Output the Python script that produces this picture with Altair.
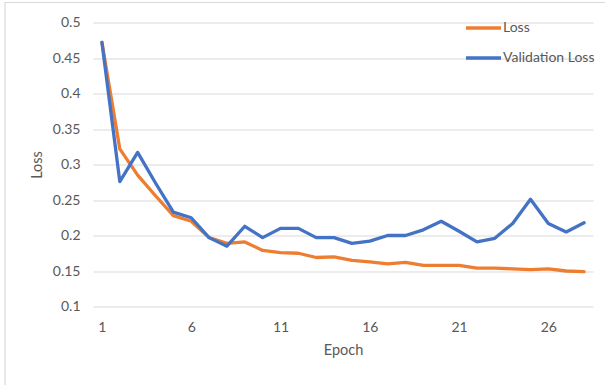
import altair as alt
import pandas as pd

# Training history per epoch
epochs = list(range(1, 29))
loss = [0.472, 0.322, 0.285, 0.256, 0.228, 0.220, 0.197, 0.189, 0.191, 0.179,
        0.176, 0.175, 0.169, 0.170, 0.165, 0.163, 0.160, 0.162, 0.158, 0.158,
        0.158, 0.154, 0.154, 0.153, 0.152, 0.153, 0.150, 0.149]
val_loss = [0.472, 0.276, 0.317, 0.274, 0.233, 0.225, 0.197, 0.185, 0.213, 0.197,
            0.210, 0.210, 0.197, 0.197, 0.189, 0.192, 0.200, 0.200, 0.208, 0.220,
            0.206, 0.191, 0.196, 0.217, 0.251, 0.217, 0.205, 0.218]
series = ["Loss", "Validation Loss"]
colors = ["#ED7D31", "#4472C4"]
x_ticks = [1, 6, 11, 16, 21, 26]
y_ticks = [0.1, 0.15, 0.2, 0.25, 0.3, 0.35, 0.4, 0.45, 0.5]

df = pd.DataFrame({"Epoch": epochs, "Loss": loss, "Validation Loss": val_loss})
long = df.melt("Epoch", var_name="Series", value_name="Value")
long["order"] = long["Series"].map({s: i for i, s in enumerate(series)})

FONT = "Lato"
GREY = "#595959"

lines = alt.Chart(long).mark_line(strokeWidth=3.3, strokeJoin="round", strokeCap="round").encode(
    x=alt.X("Epoch:Q",
            scale=alt.Scale(domain=[0.5, 28.5], nice=False, zero=False),
            axis=alt.Axis(values=x_ticks, title="Epoch", grid=False, domain=False, ticks=False,
                          labelPadding=14, titleY=37, titleBaseline="top")),
    y=alt.Y("Value:Q",
            scale=alt.Scale(domain=[0.1, 0.5], nice=False, zero=False),
            axis=alt.Axis(values=y_ticks, format="~g", title="Loss", domain=False, ticks=False,
                          labelPadding=13, gridColor="#d9d9d9", gridWidth=1.2,
                          titleX=-49, titleY=142)),
    color=alt.Color("Series:N",
                    scale=alt.Scale(domain=series, range=colors),
                    legend=alt.Legend(title=None, orient="none", legendX=371, legendY=-14,
                                      symbolType="stroke", symbolSize=1225,
                                      symbolStrokeWidth=3.5, rowPadding=3,
                                      labelOffset=0, labelFontSize=14,
                                      labelColor=GREY, labelFont=FONT)),
    detail="Series:N",
    order="order:Q",
)

# light frame around the whole chart area
frame = alt.Chart(pd.DataFrame({"k": [0]})).mark_rect(
    fill=None, stroke="#d9d9d9", strokeWidth=1.2
).encode(x=alt.value(-88), x2=alt.value(560), y=alt.value(-20), y2=alt.value(420))

chart = alt.layer(frame, lines).properties(
    width=500, height=284,
    autosize=alt.AutoSizeParams(type="none"),
    padding={"left": 93, "top": 22.5, "right": 12, "bottom": 78.5},
    background="white",
).configure_view(stroke=None).configure_axis(
    labelFont=FONT, labelFontSize=14, labelColor=GREY,
    titleFont=FONT, titleFontSize=14.5, titleColor=GREY, titleFontWeight="normal",
)

chart.save("out.html", embed_options={"renderer": "svg", "actions": False})
